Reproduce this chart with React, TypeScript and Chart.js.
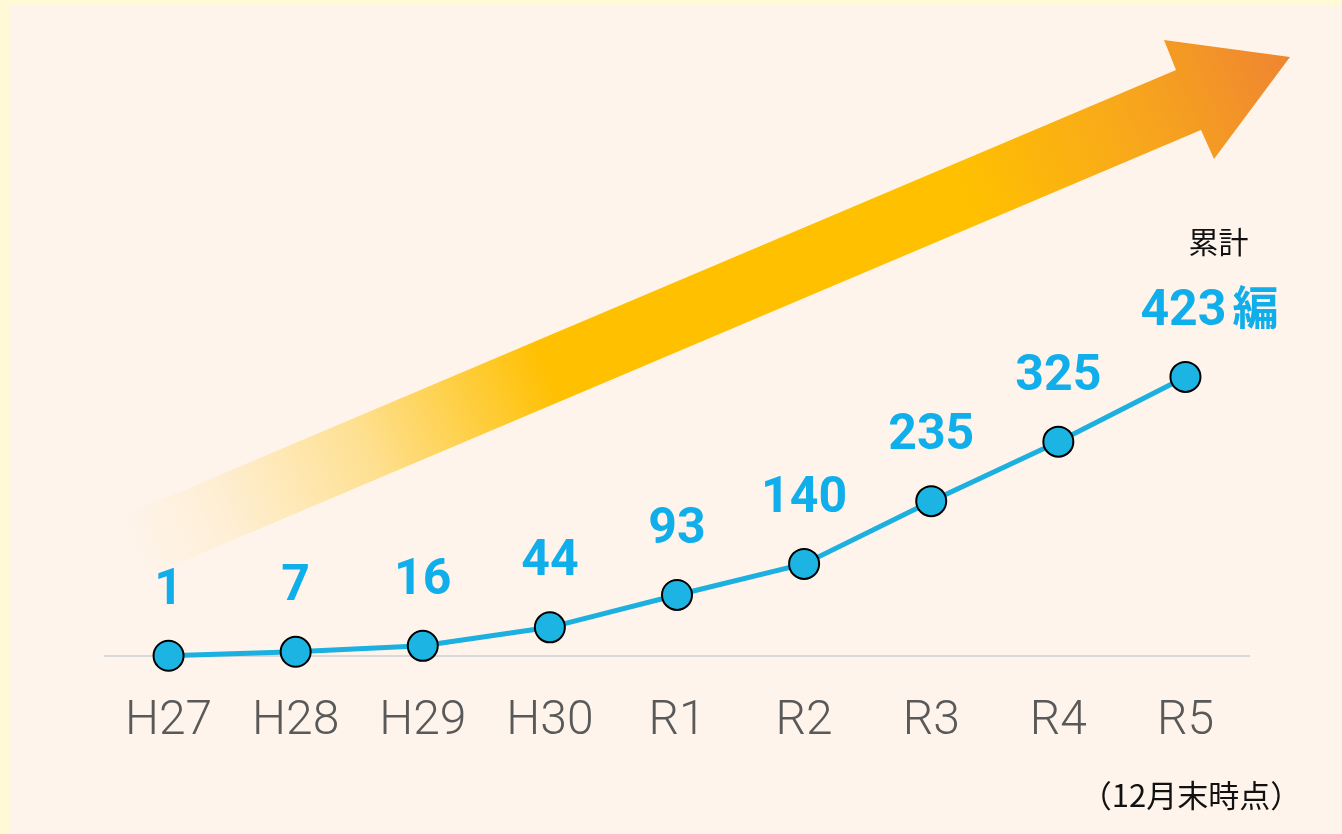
import React, { useEffect, useRef } from "react";
import { Chart, registerables } from "chart.js";

Chart.register(...registerables);

const categories = ["H27", "H28", "H29", "H30", "R1", "R2", "R3", "R4", "R5"];
const cumulativeCount = [1, 7, 16, 44, 93, 140, 235, 325, 423];
const lastUnit = "編";
const totalLabel = "累計";
const noteLabel = "（12月末時点）";

const W = 1342;
const H = 834;

const bgPlugin = {
  id: "bgArrow",
  beforeDraw(chart: any) {
    const ctx = chart.ctx as CanvasRenderingContext2D;
    ctx.save();
    ctx.fillStyle = "#FFF9D6";
    ctx.fillRect(0, 0, W, H);
    ctx.fillStyle = "#FEF4EB";
    ctx.fillRect(9, 5, W - 9, H - 5);

    // decorative arrow
    const tip = { x: 1290, y: 57 };
    const headTop = { x: 1164, y: 40 };
    const headBot = { x: 1214, y: 159 };
    const joinTop = { x: 1176, y: 70 };
    const joinBot = { x: 1201, y: 130 };
    const dx = 0.921, dy = -0.39;
    const L = 1146;
    const tailTop = { x: joinTop.x - dx * L, y: joinTop.y - dy * L };
    const tailBot = { x: joinBot.x - dx * L, y: joinBot.y - dy * L };
    const tailC = { x: (tailTop.x + tailBot.x) / 2, y: (tailTop.y + tailBot.y) / 2 };
    const g = ctx.createLinearGradient(tailC.x, tailC.y, tip.x, tip.y);
    g.addColorStop(0, "rgba(255,192,0,0)");
    g.addColorStop(0.08, "rgba(255,192,0,0.1)");
    g.addColorStop(0.2, "rgba(255,192,0,0.38)");
    g.addColorStop(0.36, "rgba(255,192,0,1)");
    g.addColorStop(0.72, "#FFC000");
    g.addColorStop(0.86, "#F8A81B");
    g.addColorStop(1, "#EF8531");
    ctx.fillStyle = g;
    ctx.beginPath();
    ctx.moveTo(tailTop.x, tailTop.y);
    ctx.lineTo(joinTop.x, joinTop.y);
    ctx.lineTo(headTop.x, headTop.y);
    ctx.lineTo(tip.x, tip.y);
    ctx.lineTo(headBot.x, headBot.y);
    ctx.lineTo(joinBot.x, joinBot.y);
    ctx.lineTo(tailBot.x, tailBot.y);
    ctx.closePath();
    ctx.fill();
    ctx.restore();
  },
};

const labelPlugin = {
  id: "valueLabels",
  afterDatasetsDraw(chart: any) {
    const ctx = chart.ctx as CanvasRenderingContext2D;
    const meta = chart.getDatasetMeta(0);
    const data = chart.data.datasets[0].data as number[];
    ctx.save();
    ctx.fillStyle = "#10AEEA";
    ctx.textBaseline = "alphabetic";
    meta.data.forEach((pt: any, i: number) => {
      const x = pt.x;
      const y = pt.y - 52;
      const text = String(data[i]);
      if (i === data.length - 1) {
        ctx.font = "bold 50px Roboto, 'Noto Sans', sans-serif";
        ctx.textAlign = "right";
        ctx.fillText(text, x + 41, y);
        ctx.font = "bold 46px 'Noto Sans CJK JP', sans-serif";
        ctx.textAlign = "left";
        ctx.fillText(lastUnit, x + 47, y - 1);
        ctx.fillStyle = "#111111";
        ctx.font = "30px 'Noto Sans CJK JP', sans-serif";
        ctx.textAlign = "center";
        ctx.textBaseline = "middle";
        ctx.fillText(totalLabel, x + 33, y - 83);
        ctx.fillStyle = "#10AEEA";
        ctx.textBaseline = "alphabetic";
      } else {
        ctx.font = "bold 50px Roboto, 'Noto Sans', sans-serif";
        ctx.textAlign = "center";
        ctx.fillText(text, x, y);
      }
    });
    ctx.fillStyle = "#111111";
    ctx.font = "31px 'Noto Sans CJK JP', sans-serif";
    ctx.textAlign = "center";
    ctx.textBaseline = "middle";
    ctx.fillText(noteLabel, 1191, 795);
    ctx.restore();
  },
};

export default function App() {
  const ref = useRef<HTMLCanvasElement | null>(null);
  useEffect(() => {
    document.body.style.margin = "0";
    document.body.style.overflow = "hidden";
    if (!ref.current) return;
    const chart = new Chart(ref.current, {
      type: "line",
      data: {
        labels: categories,
        datasets: [
          {
            data: cumulativeCount,
            borderColor: "#1CB0E0",
            borderWidth: 5,
            pointRadius: 15,
            pointBorderWidth: 2,
            pointBackgroundColor: "#1BB4E3",
            pointBorderColor: "#000000",
            tension: 0,
            clip: false as any,
          },
        ],
      },
      options: {
        animation: false,
        responsive: false,
        layout: { padding: { left: 105, right: 93, top: 260, bottom: 54 } },
        plugins: {
          legend: { display: false },
          tooltip: { enabled: false },
        },
        scales: {
          x: {
            offset: true,
            grid: { display: false },
            border: { display: true, color: "#D9D9D9", width: 2 },
            ticks: {
              color: "#595959",
              padding: 29,
              font: { family: "Roboto", size: 48, weight: "300" as any },
            },
          },
          y: {
            display: false,
            min: 0,
            max: 600,
          },
        },
      },
      plugins: [bgPlugin, labelPlugin],
    });
    return () => chart.destroy();
  }, []);
  return (
    <div style={{ position: "absolute", left: 0, top: 0, width: W, height: H }}>
      <canvas ref={ref} width={W} height={H} style={{ width: W, height: H }} />
    </div>
  );
}
